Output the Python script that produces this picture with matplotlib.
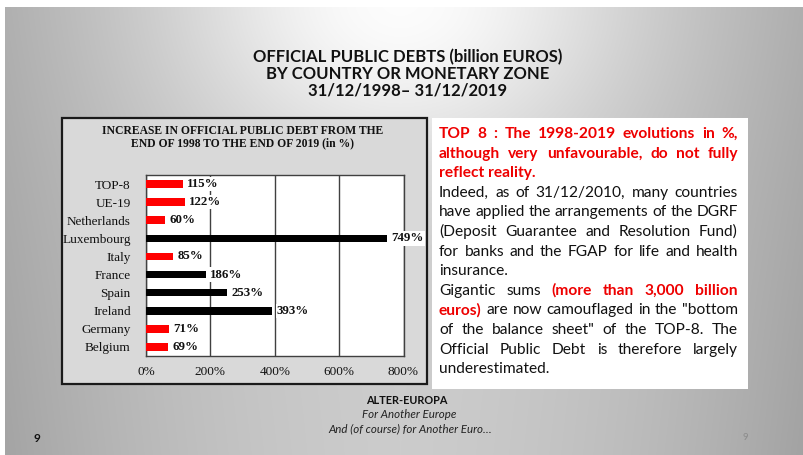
import numpy as np
import matplotlib
matplotlib.use("Agg")
import matplotlib.pyplot as plt
from matplotlib.patches import Rectangle
from matplotlib.font_manager import FontProperties

# ---------------- data ----------------
categories = ["TOP-8", "UE-19", "Netherlands", "Luxembourg", "Italy",
              "France", "Spain", "Ireland", "Germany", "Belgium"]
increase_pct = [115, 122, 60, 749, 85, 186, 253, 393, 71, 69]
bar_colors = ["#ff0000", "#ff0000", "#ff0000", "#000000", "#ff0000",
              "#000000", "#000000", "#000000", "#ff0000", "#ff0000"]
xticks = [0, 200, 400, 600, 800]
xtick_labels = ["0%", "200%", "400%", "600%", "800%"]

title_lines = ["OFFICIAL PUBLIC DEBTS (billion EUROS)",
               "BY COUNTRY OR MONETARY ZONE",
               "31/12/1998\u2013 31/12/2019"]
chart_title = "INCREASE IN OFFICIAL PUBLIC DEBT FROM THE\nEND OF 1998 TO THE END OF 2019 (in %)"

RB = ("#ee0000", "bold")
K = ("#111111", "normal")
para_lines = [
    ([("TOP 8 : The 1998-2019 evolutions in %,", RB)], True),
    ([("although very unfavourable, do not fully", RB)], True),
    ([("reflect reality.", RB)], False),
    ([("Indeed, as of 31/12/2010, many countries", K)], True),
    ([("have applied the arrangements of the DGRF", K)], True),
    ([("(Deposit Guarantee and Resolution Fund)", K)], True),
    ([("for banks and the FGAP for life and health", K)], True),
    ([("insurance.", K)], False),
    ([("Gigantic sums", K), ("(more than 3,000 billion", RB)], True),
    ([("euros)", RB), ('are now camouflaged in the "bottom', K)], True),
    ([('of the balance sheet" of the TOP-8. The', K)], True),
    ([("Official Public Debt is therefore largely", K)], True),
    ([("underestimated.", K)], False),
]

# ---------------- figure ----------------
W, H = 804, 455
fig = plt.figure(figsize=(W / 100, H / 100), dpi=100)

axbg = fig.add_axes([0, 0, 1, 1])
axbg.set_xlim(0, W)
axbg.set_ylim(H, 0)
axbg.axis("off")
yy, xx = np.mgrid[0:H, 0:W]
u = (xx - 400) / 400.0
v = 0.80 - 0.12 * u ** 2 - 0.04 * (yy / H) * np.abs(u)
v = v + 0.19 * np.exp(-(yy / 160.0) ** 2) * np.exp(-(u / 0.55) ** 2)
v = np.clip(v, 0, 1)
img = np.dstack([v, v, v])
img[:7, :] = 1.0
img[:, :5] = 1.0
axbg.imshow(img, extent=(0, W, H, 0), aspect="auto", interpolation="bilinear", zorder=0)

# chart frame and text box
axbg.add_patch(Rectangle((62, 118), 365, 266, fc="#d9d9d9", ec="#1a1a1a", lw=1.6, zorder=1))
axbg.add_patch(Rectangle((432, 118), 316, 271, fc="white", ec="none", zorder=1))

# main title
for i, t in enumerate(title_lines):
    axbg.text(408, 57 + i * 17, t, ha="center", va="center", fontsize=12,
              fontweight="bold", family="Lato", color="#111111", zorder=2)

# chart title
axbg.text(243, 137, chart_title, ha="center", va="center", fontsize=8.4,
          fontweight="bold", family="Liberation Serif", color="#111111",
          linespacing=1.0, zorder=2)

# footer
axbg.text(407, 401, "ALTER-EUROPA", ha="center", va="center", fontsize=7.8,
          fontweight="bold", family="Lato", color="#111111")
axbg.text(409, 415, "For Another Europe", ha="center", va="center", fontsize=8.3,
          style="italic", family="Lato", color="#222222")
axbg.text(410, 429, "And (of course) for Another Euro\u2026", ha="center", va="center",
          fontsize=8.3, style="italic", family="Lato", color="#222222")
axbg.text(37, 438, "9", ha="center", va="center", fontsize=8.5, fontweight="bold",
          family="Lato", color="#111111")
axbg.text(745, 438, "9", ha="center", va="center", fontsize=7,
          family="Lato", color="#8c8c8c")

# ---------------- bar chart ----------------
ax = fig.add_axes([146 / W, 1 - 356 / H, (403.5 - 146) / W, (356 - 175) / H])
ypos = np.arange(len(categories))
ax.barh(ypos, increase_pct, height=0.42, color=bar_colors, zorder=3)
ax.set_ylim(len(categories) - 0.5, -0.5)
ax.set_xlim(0, 800)
ax.set_xticks(xticks)
ax.set_xticklabels(xtick_labels)
ax.set_yticks(ypos)
ax.set_yticklabels(categories)
ax.tick_params(length=0, labelsize=9.5, colors="#111111")
ax.tick_params(axis="x", pad=7)
ax.tick_params(axis="y", pad=11)
for lab in ax.get_xticklabels() + ax.get_yticklabels():
    lab.set_family("Liberation Serif")
ax.xaxis.grid(True, color="#404040", lw=1)
ax.set_axisbelow(True)
for s in ax.spines.values():
    s.set_color("#404040")
    s.set_linewidth(1)
for yv, val in zip(ypos, increase_pct):
    ax.annotate(f"{val}%", (val, yv), xytext=(3, 0), textcoords="offset points",
                ha="left", va="center", fontsize=9.3, fontweight="bold",
                family="Liberation Serif", color="#111111", annotation_clip=False,
                bbox=dict(fc="white", ec="none", pad=0.8), zorder=4)

# ---------------- justified paragraph ----------------
renderer = fig.canvas.get_renderer()
X0, X1 = 439, 738
BASE0, STEP = 138, 19.6


def fp_for(weight, size):
    return FontProperties(family="Lato", weight=weight, size=size)


def width_px(s, fp):
    return renderer.get_text_width_height_descent(s, fp, ismath=False)[0]


def words_of(line, size):
    out = []
    for text, (color, weight) in line:
        fp = fp_for(weight, size)
        for w in text.split(" "):
            if w:
                out.append((w, color, fp, width_px(w, fp)))
    return out


size = 12.0
while size > 7:
    sp = width_px("a a", fp_for("normal", size)) - width_px("aa", fp_for("normal", size))
    ok = True
    for line, just in para_lines:
        ws = words_of(line, size)
        tot = sum(w[3] for w in ws) + 0.8 * sp * (len(ws) - 1)
        if tot > (X1 - X0):
            ok = False
            break
    if ok:
        break
    size -= 0.1

sp = width_px("a a", fp_for("normal", size)) - width_px("aa", fp_for("normal", size))
for li, (line, just) in enumerate(para_lines):
    ws = words_of(line, size)
    base = BASE0 + li * STEP
    if just and len(ws) > 1:
        gap = ((X1 - X0) - sum(w[3] for w in ws)) / (len(ws) - 1)
    else:
        gap = sp
    x = X0
    for w, color, fp, wd in ws:
        axbg.text(x, base, w, color=color, fontproperties=fp, ha="left",
                  va="baseline", zorder=3)
        x += wd + gap

fig.savefig("out.png", dpi=100)
